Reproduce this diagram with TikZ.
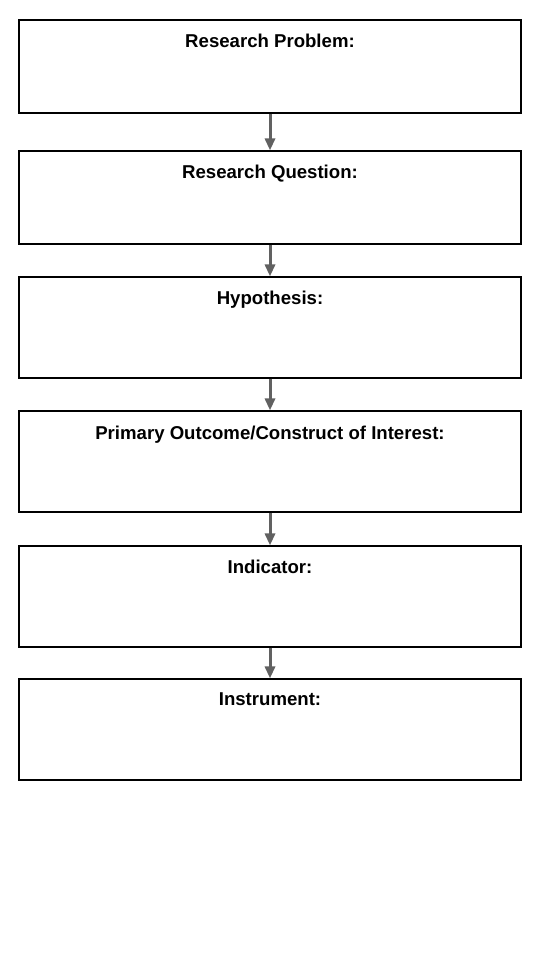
\documentclass[tikz,border=0pt]{standalone}
\usepackage{fontspec}
\setmainfont{Liberation Sans}
\usetikzlibrary{positioning,arrows.meta}

\tikzset{
  stage/.style={draw=black, line width=1.1pt, minimum width=502pt, inner sep=0pt},
  title/.style={font=\bfseries\fontsize{18.6}{22}\selectfont, inner sep=0pt},
  flow/.style={draw=black!62, line width=3pt, -{Triangle[length=12pt,width=10pt]}}
}

\begin{document}
\begin{tikzpicture}[x=1pt,y=-1pt]
    \useasboundingbox (0,0) rectangle (540,960);
    \node[stage, minimum height=93pt] (problem) at (270,66.5) {};
    \node[stage, minimum height=93pt] (question) at (270,197.5) {};
    \node[stage, minimum height=101pt] (hypothesis) at (270,327.5) {};
    \node[stage, minimum height=101pt] (outcome) at (270,461.5) {};
    \node[stage, minimum height=101pt] (indicator) at (270,596.5) {};
    \node[stage, minimum height=101pt] (instrument) at (270,729.5) {};

    \node[title, below=14.5pt of problem.north] (problemT) {Research Problem:};
    \node[title, below=14.5pt of question.north] (questionT) {Research Question:};
    \node[title, below=14.5pt of hypothesis.north] (hypothesisT) {Hypothesis:};
    \node[title, below=15pt of outcome.north] (outcomeT) {Primary Outcome/Construct of Interest:};
    \node[title, below=14.5pt of indicator.north] (indicatorT) {Indicator:};
    \node[title, below=14.5pt of instrument.north] (instrumentT) {Instrument:};

    \draw[flow] (problem) -- (question);
    \draw[flow] (question) -- (hypothesis);
    \draw[flow] (hypothesis) -- (outcome);
    \draw[flow] (outcome) -- (indicator);
    \draw[flow] (indicator) -- (instrument);
\end{tikzpicture}
\end{document}
